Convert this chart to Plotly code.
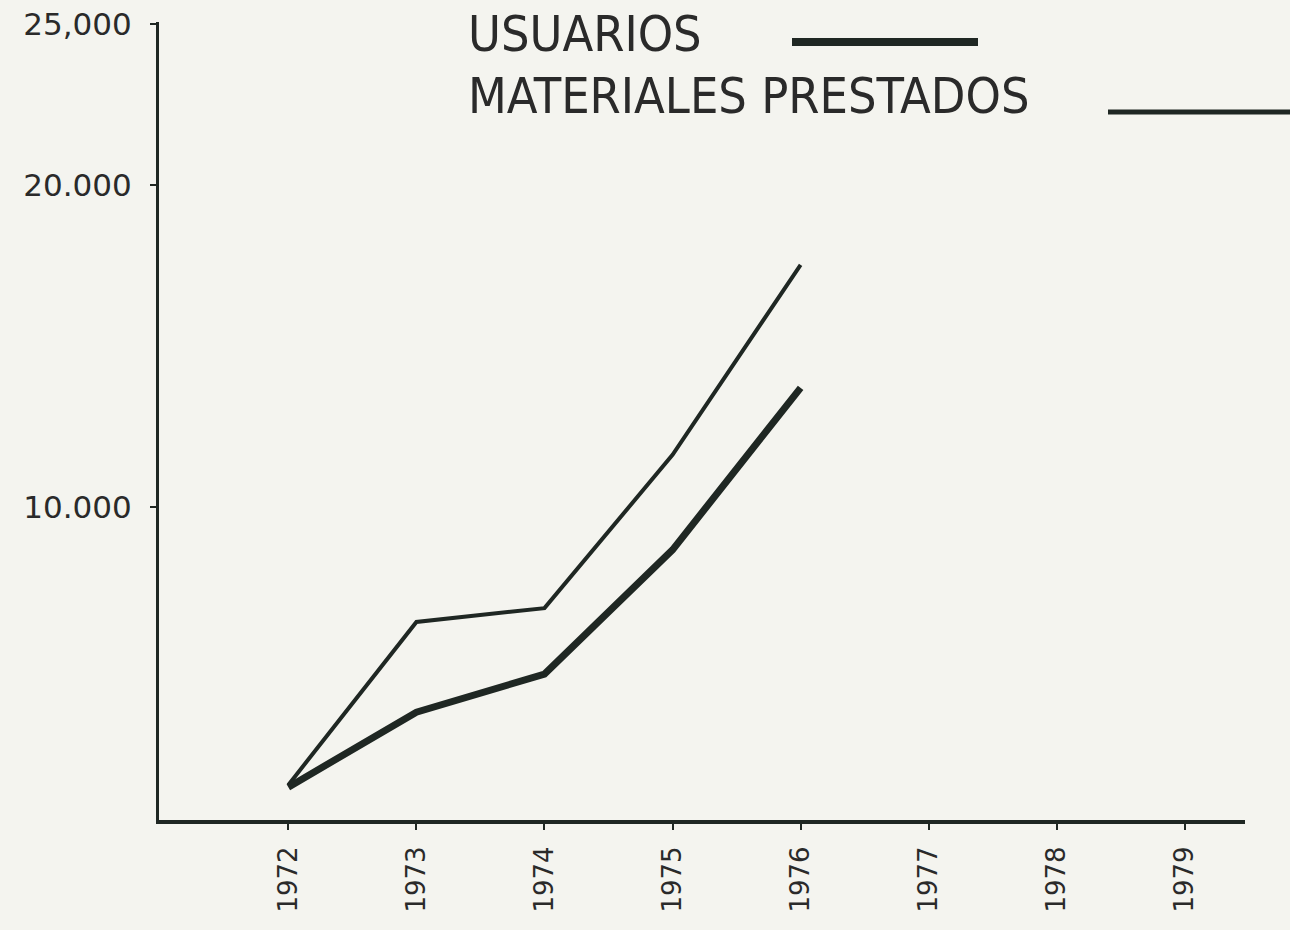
import plotly.graph_objects as go

years = [1972, 1973, 1974, 1975, 1976]
usuarios = [1300, 3630, 4810, 8670, 13700]
materiales = [1370, 6430, 6860, 11620, 17520]

x_ticks = [1972, 1973, 1974, 1975, 1976, 1977, 1978, 1979]
y_tickvals = [10000, 20000, 25000]
y_ticktext = ["10.000", "20.000", "25,000"]

ink = "#1f2723"
paper = "#f4f4ef"

# plot area in page pixels
L, R, T, B = 159, 1245, 22, 820

fig = go.Figure()
fig.add_trace(go.Scatter(x=years, y=materiales, mode="lines", name="MATERIALES PRESTADOS",
                         line=dict(color=ink, width=4), showlegend=False))
fig.add_trace(go.Scatter(x=years, y=usuarios, mode="lines", name="USUARIOS",
                         line=dict(color=ink, width=7), showlegend=False))

fig.update_layout(
    width=1290, height=930,
    margin=dict(l=L, r=1290 - R, t=T, b=930 - B, autoexpand=False),
    paper_bgcolor=paper, plot_bgcolor=paper,
    font=dict(family="DejaVu Sans", color="#2a2a2a"),
    xaxis=dict(range=[1970.99, 1979.47], tickvals=x_ticks, ticktext=[str(v) for v in x_ticks],
               tickangle=-90, showgrid=False, zeroline=False, showline=True, linecolor=ink,
               linewidth=4, ticks="outside", ticklen=6, tickwidth=2, tickcolor=ink, automargin=False,
               tickfont=dict(size=26, family="DejaVu Sans", color="#2a2a2a"), ticklabelstandoff=6),
    yaxis=dict(range=[280, 25062], tickvals=y_tickvals, ticktext=y_ticktext,
               showgrid=False, zeroline=False, showline=True, linecolor=ink, linewidth=3,
               ticks="outside", ticklen=6, tickwidth=2, tickcolor=ink, ticklabeloverflow="allow",
               automargin=False,
               tickfont=dict(size=31, family="DejaVu Sans", color="#2a2a2a"), ticklabelstandoff=12),
)

W, H = R - L, B - T
def px(x):
    return (x - L) / W
def py(y):
    return 1 - (y - T) / H

legend_font = dict(family="DejaVu Sans Condensed, Liberation Sans", size=50, color="#2a2a2a")
fig.add_annotation(xref="paper", yref="paper", x=px(466), y=py(34), xanchor="left",
                   yanchor="middle", text="USUARIOS", showarrow=False, font=legend_font)
fig.add_annotation(xref="paper", yref="paper", x=px(466), y=py(96), xanchor="left",
                   yanchor="middle", text="MATERIALES PRESTADOS", showarrow=False, font=legend_font)
fig.add_shape(type="line", xref="paper", yref="paper", x0=px(792), x1=px(978),
              y0=py(42), y1=py(42), line=dict(color=ink, width=8))
fig.add_shape(type="line", xref="paper", yref="paper", x0=px(1108), x1=px(1290),
              y0=py(112), y1=py(112), line=dict(color=ink, width=5))

fig.write_html("out.html", config={"displayModeBar": False},
               post_script="document.body.style.margin='0';document.body.style.background='%s';" % paper)
